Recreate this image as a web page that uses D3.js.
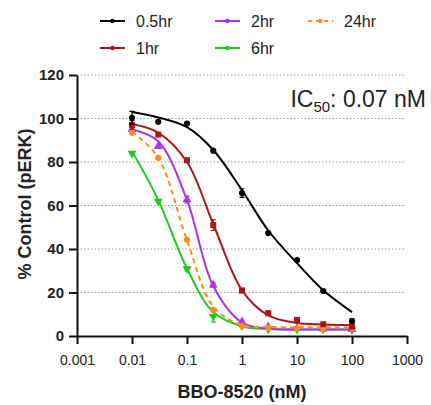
<!DOCTYPE html>
<html>
<head>
<meta charset="utf-8">
<script src="https://cdn.jsdelivr.net/npm/d3@7"></script>
<style>
  body { margin: 0; background: #fff; }
  svg { display: block; font-family: "Liberation Sans", Arial, sans-serif; }
</style>
</head>
<body>
<svg id="chart" width="431" height="405"></svg>
<script>
// doses (nM)
const doses = [0.01, 0.03, 0.1, 0.3, 1, 3, 10, 30, 100]
const xTicks = [0.001, 0.01, 0.1, 1, 10, 100, 1000]
const xTickLabels = ["0.001", "0.01", "0.1", "1", "10", "100", "1000"]
const yTicks = [0, 20, 40, 60, 80, 100, 120]

// measured points, % control
const pts05 = [100.3, 98.5, 97.7, 85.2, 65.7, 47.3, 34.9, 20.7, 6.9]
const pts1  = [97, 92.6, 80.8, 51, 20.9, 10.5, 7.4, 5.4, 4.3]
const pts2  = [95, 87.2, 62.7, 23.5, 6.6, 4.3, 3.5, 3.3, 3]
const pts6  = [84, 61.9, 30.9, 8.9, 4.6, 3.2, 3, 3, 2.8]
const pts24 = [93.5, 81.9, 44.2, 12, 4.5, 3.8, 3.6, 3.5, 3.5]

// error bar half widths
const err05 = [3, 0, 0, 0, 2, 0, 0, 0, 1]
const err1  = [2, 0, 0, 2.5, 1, 1, 1, 0, 0]
const err2  = [1, 0, 1.5, 1, 0, 0, 0, 0, 0]
const err6  = [0, 0, 1, 2.5, 0, 0, 0, 0, 0]
const err24 = [0, 0, 0, 0, 0, 0, 0, 0, 0]

// fitted curve height read at each dose
const fit05 = [103, 100.5, 96, 85.5, 67, 48.5, 33.5, 21, 11]
const fit1  = [97.5, 93.5, 80, 51.5, 21, 9.5, 6, 5.3, 5]
const fit2  = [95, 89.5, 62.5, 23, 6.2, 3.4, 3, 3, 3]
const fit6  = [85, 62.5, 31, 11, 4.5, 3.2, 3, 3, 3]
const fit24 = [94, 82, 44, 13.5, 5, 4.2, 4, 4, 4]

const series = [
  { name: "6hr",   color: "#22c822", sym: "down",   pts: pts6,  err: err6,  fit: fit6 },
  { name: "2hr",   color: "#b030ef", sym: "up",     pts: pts2,  err: err2,  fit: fit2 },
  { name: "24hr",  color: "#ff8c1a", sym: "circle", pts: pts24, err: err24, fit: fit24, dash: "5,4" },
  { name: "1hr",   color: "#a81818", sym: "square", pts: pts1,  err: err1,  fit: fit1 },
  { name: "0.5hr", color: "#000000", sym: "circle", pts: pts05, err: err05, fit: fit05 }
]
const legendOrder = ["0.5hr", "1hr", "2hr", "6hr", "24hr"]

const svg = d3.select('#chart')
const x = d3.scaleLog().domain([0.001, 1000]).range([77, 407])
const y = d3.scaleLinear().domain([0, 120]).range([336, 75])

// dotted grid
svg.append("g")
  .selectAll("line")
  .data(yTicks.filter(d => d > 0))
  .join("line")
  .attr("x1", x(0.001)).attr("x2", x(1000) - 1)
  .attr("y1", d => y(d)).attr("y2", d => y(d))
  .attr("stroke", "#9a9a9a")
  .attr("stroke-width", 1)
  .attr("stroke-dasharray", "1.5,2")

function symbolPath(kind) {
  if (kind == "square") return d3.symbol(d3.symbolSquare, 36)()
  if (kind == "up") return d3.symbol(d3.symbolTriangle, 34)()
  if (kind == "down") return d3.symbol(d3.symbolTriangle, 34)()
  return d3.symbol(d3.symbolCircle, 30)()
}

const line = d3.line()
  .x(d => x(d[0]))
  .y(d => y(d[1]))
  .curve(d3.curveCatmullRom.alpha(0.5))

for (const s of series) {
  const g = svg.append("g")
  g.append("path")
    .attr("d", line(doses.map((dose, i) => [dose, s.fit[i]])))
    .attr("fill", "none")
    .attr("stroke", s.color)
    .attr("stroke-width", 2)
    .attr("stroke-dasharray", s.dash || null)

  // error bars
  const eb = doses.map((dose, i) => ({ dose, v: s.pts[i], e: s.err[i] })).filter(d => d.e > 0)
  g.selectAll(".eb").data(eb).join("path")
    .attr("d", d => {
      const cx = x(d.dose), y1 = y(d.v + d.e), y2 = y(d.v - d.e)
      return `M${cx - 2.5},${y1}H${cx + 2.5}M${cx},${y1}V${y2}M${cx - 2.5},${y2}H${cx + 2.5}`
    })
    .attr("stroke", s.color)
    .attr("stroke-width", 1.2)
    .attr("fill", "none")

  g.selectAll(".pt").data(doses.map((dose, i) => [dose, s.pts[i]])).join("path")
    .attr("d", symbolPath(s.sym))
    .attr("transform", d => `translate(${x(d[0])},${y(d[1])})` + (s.sym == "down" ? " rotate(180)" : ""))
    .attr("fill", s.color)
}

// axes
const yAxis = svg.append("g")
  .attr("transform", `translate(${x(0.001)},0)`)
  .call(d3.axisLeft(y).tickValues(yTicks).tickSize(8).tickSizeOuter(0).tickPadding(5))
yAxis.selectAll("text").style("font-size", "15px").style("font-weight", "bold").attr("fill", "#222")

const xAxis = svg.append("g")
  .attr("transform", `translate(0,${y(0)})`)
  .call(d3.axisBottom(x).tickValues(xTicks).tickSize(8).tickSizeOuter(0).tickPadding(11)
    .tickFormat((d, i) => xTickLabels[i]))
xAxis.selectAll("text").style("font-size", "14px").attr("fill", "#222")

for (const a of [xAxis, yAxis]) {
  a.select(".domain").attr("stroke", "#111").attr("stroke-width", 2)
  a.selectAll(".tick line").attr("stroke", "#111").attr("stroke-width", 2)
}

// axis titles
svg.append("text")
  .attr("x", 242).attr("y", 398)
  .attr("text-anchor", "middle")
  .style("font-size", "18px").style("font-weight", "bold")
  .attr("fill", "#222")
  .text("BBO-8520 (nM)")

svg.append("text")
  .attr("transform", "translate(31,204) rotate(-90)")
  .attr("text-anchor", "middle")
  .style("font-size", "18px").style("font-weight", "bold")
  .attr("fill", "#222")
  .text("% Control (pERK)")

// IC50 annotation
const ic = svg.append("text")
  .attr("x", 426).attr("y", 107)
  .attr("text-anchor", "end")
  .style("font-size", "23px")
  .attr("fill", "#222")
ic.append("tspan").text("IC")
ic.append("tspan").attr("dy", 5).style("font-size", "15px").text("50")
ic.append("tspan").attr("dy", -5).text(": 0.07 nM")

// legend
const legendPos = {
  "0.5hr": [100, 21], "1hr": [100, 48],
  "2hr": [215, 21], "6hr": [215, 48],
  "24hr": [308, 21]
}
for (const name of legendOrder) {
  const s = series.find(d => d.name == name)
  const [lx, ly] = legendPos[name]
  const lg = svg.append("g").attr("transform", `translate(${lx},${ly})`)
  lg.append("line")
    .attr("x1", 0).attr("x2", 25)
    .attr("stroke", s.color).attr("stroke-width", 2)
    .attr("stroke-dasharray", s.dash ? "4,4" : null)
  lg.append("circle").attr("cx", 12.5).attr("r", 2.2).attr("fill", s.color)
  lg.append("text")
    .attr("x", 36).attr("dy", "0.36em")
    .style("font-size", "16px")
    .attr("fill", "#222")
    .text(name)
}
</script>
</body>
</html>
